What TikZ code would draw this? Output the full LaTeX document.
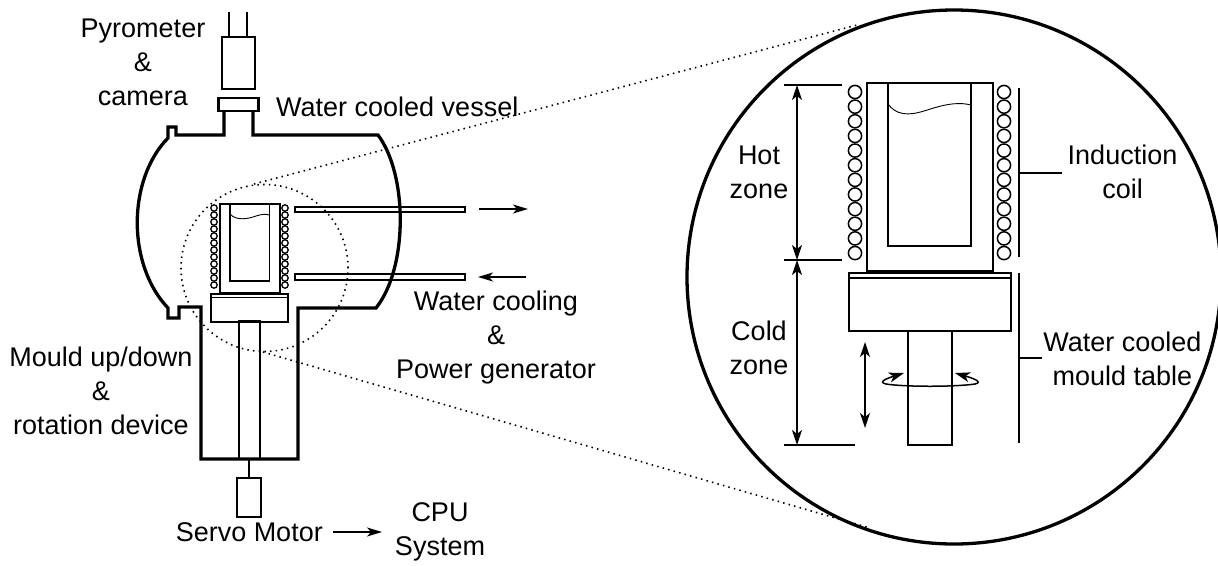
\documentclass[tikz,border=0pt]{standalone}
\usepackage{fontspec}
\setmainfont{Liberation Sans}
\usepackage{xcolor}
\usetikzlibrary{positioning, arrows.meta, calc}

\tikzset{
  txt/.style={rectangle, align=center, inner sep=0pt, font=\fontsize{27}{34}\selectfont},
  part/.style={rectangle, draw, inner sep=0pt, outer sep=0pt, line width=1.7pt},
  wall/.style={line width=3.3pt, line join=miter},
  thin line/.style={line width=1.7pt},
  dots/.style={line width=1.6pt, dash pattern=on 1.5pt off 4.2pt},
  flow/.style={line width=1.5pt, -{Stealth[length=15pt, width=9pt, inset=4pt]}},
  both/.style={line width=1.7pt, {Stealth[length=15pt, width=10pt, inset=4pt]}-{Stealth[length=15pt, width=10pt, inset=4pt]}},
}

\begin{document}
\begin{tikzpicture}[x=1pt, y=-1pt]
\useasboundingbox (0,0) rectangle (1218,565);

% vessel and what sits on it
\draw [wall] (224,111) -- (224,135) -- (176,135) -- (176,127) -- (168,127) -- (168,138)
  .. controls (127,180) and (127,265) .. (168,308) -- (168,318) -- (179,318) -- (179,307) -- (201,307)
  -- (201,459) -- (298,459) -- (298,308) -- (376,308)
  .. controls (408,268) and (408,175) .. (378,135) -- (253,135) -- (253,111);
\node [part, line width=2.4pt, minimum width=33pt, minimum height=52pt] (pyro box) at (238.5,63) {};
\node [part, line width=2.4pt, minimum width=40pt, minimum height=13pt, below = 9pt of pyro box] (flange) {};
\coordinate (wire a) at (229,12);
\coordinate (wire b) at (247,12);
\draw [thin line] (wire a) -- (wire a |- pyro box.north);
\draw [thin line] (wire b) -- (wire b |- pyro box.north);

% small furnace
\node [part, minimum width=60pt, minimum height=89pt] (crucible) at (250,248.5) {};
\node [part, minimum width=39.5pt, minimum height=77pt] (melt) at (249.75,242.5) {};
\draw [line width=0.9pt] (230,214) .. controls (236,221) and (248,219) .. (256,216) .. controls (262,214) and (266,214) .. (269.5,215);
\node [part, minimum width=77pt, minimum height=28pt] (table) at (249.5,308) {};
\draw [thin line] (table.north west)++(0,3.5) -- ++(77,0);
\node [part, minimum width=21pt, minimum height=138pt] (shaft) at (249.5,390) {};
\foreach \i in {0,...,11} {
  \draw [line width=1.3pt] (214,{208+7*\i}) circle (3.2pt);
  \draw [line width=1.3pt] (285,{208+7*\i}) circle (3.2pt);
}

% tubes
\node [part, minimum width=170pt, minimum height=5.5pt] (tube up) at (380,209.5) {};
\node [part, minimum width=170pt, minimum height=5.5pt] (tube low) at (380,277) {};
\coordinate (out a) at (479,209);
\coordinate (out b) at (528,209);
\coordinate (in a) at (526,277);
\coordinate (in b) at (478,277);
\draw [flow] (out a) -- (out b);
\draw [flow] (in a) -- (in b);

% motor
\node [part, minimum width=24pt, minimum height=39pt] (motor) at (249,497.5) {};
\coordinate (base) at (249,459);
\draw [line width=2pt] (base) -- (motor.north);

% labels of the left side
\node [txt] (pyro) at (143,62) {Pyrometer\\\&\\camera};
\node [txt, anchor=west] (vessel) at (276,107) {Water cooled vessel};
\node [txt] (water) at (496,338) {Water cooling\\\&\\Power generator};
\node [txt] (mould) at (101,391) {Mould up/down\\\&\\rotation device};
\node [txt, anchor=east] (servo) at (323,532) {Servo Motor};
\node [txt] (cpu) at (440,532) {CPU\\System};
\coordinate (servo a) at (333,532);
\coordinate (servo b) at (382,532);
\draw [flow] (servo a) -- (servo b);

% zoom
\node [draw, circle, line width=1.6pt, dash pattern=on 1.5pt off 4.2pt, minimum size=167pt, inner sep=0pt, outer sep=0pt] (spot) at (264.5,268) {};
\node [draw, circle, line width=3.3pt, minimum size=534pt, inner sep=0pt, outer sep=0pt] (lens) at (954,277) {};
\coordinate (up a) at (254,184);
\coordinate (up b) at (857,25);
\coordinate (low a) at (263,352);
\coordinate (low b) at (870,528);
\draw [dots] (up a) -- (up b);
\draw [dots] (low a) -- (low b);

% big furnace
\node [part, minimum width=126pt, minimum height=188pt] (big crucible) at (930,177) {};
\node [part, minimum width=83pt, minimum height=163pt] (big melt) at (929.5,164.5) {};
\draw [line width=0.9pt] (888,104) .. controls (896,115) and (908,116) .. (924,111) .. controls (940,106) and (955,101) .. (971,105);
\node [part, minimum width=162pt, minimum height=58pt] (big table) at (930,302) {};
\draw [thin line] (big table.north west)++(0,5) -- ++(162,0);
\node [part, minimum width=44pt, minimum height=114pt] (big shaft) at (930,388) {};
\foreach \i in {0,...,11} {
  \draw [line width=1.5pt] (855,{92+14.64*\i}) circle (6.6pt);
  \draw [line width=1.5pt] (1004,{92+14.64*\i}) circle (6.6pt);
}

% zones
\coordinate (hot a) at (784,85);
\coordinate (hot b) at (842,85);
\coordinate (mid a) at (784,260);
\coordinate (mid b) at (842,260);
\coordinate (cold a) at (784,445);
\coordinate (cold b) at (855,445);
\draw [thin line] (hot a) -- (hot b);
\draw [thin line] (mid a) -- (mid b);
\draw [thin line] (cold a) -- (cold b);
\draw [both] (797,85) -- (797,260);
\draw [both] (797,260) -- (797,445);
\draw [both] (865,342) -- (865,428);
\draw [both, line width=1.5pt] (904,373) .. controls (888,378) and (877,382) .. (886,384) .. controls (905,387) and (955,387) .. (975,384) .. controls (984,382) and (972,378) .. (955,373);

% right brackets
\coordinate (coil a) at (1019,88);
\coordinate (coil b) at (1019,257);
\coordinate (coil t) at (1019,173);
\coordinate (mt a) at (1019,273);
\coordinate (mt b) at (1019,443);
\coordinate (mt t) at (1019,358);
\draw [thin line] (coil a) -- (coil b);
\draw [thin line] (mt a) -- (mt b);
\draw [thin line] (coil t) -- ++(43,0);
\draw [thin line] (mt t) -- ++(23,0);

\node [txt] (hot) at (759,172) {Hot\\zone};
\node [txt] (cold) at (759,348) {Cold\\zone};
\node [txt] (coil) at (1122.5,172) {Induction\\coil};
\node [txt] (mt) at (1122.5,359) {Water cooled\\mould table};

\end{tikzpicture}
\end{document}
